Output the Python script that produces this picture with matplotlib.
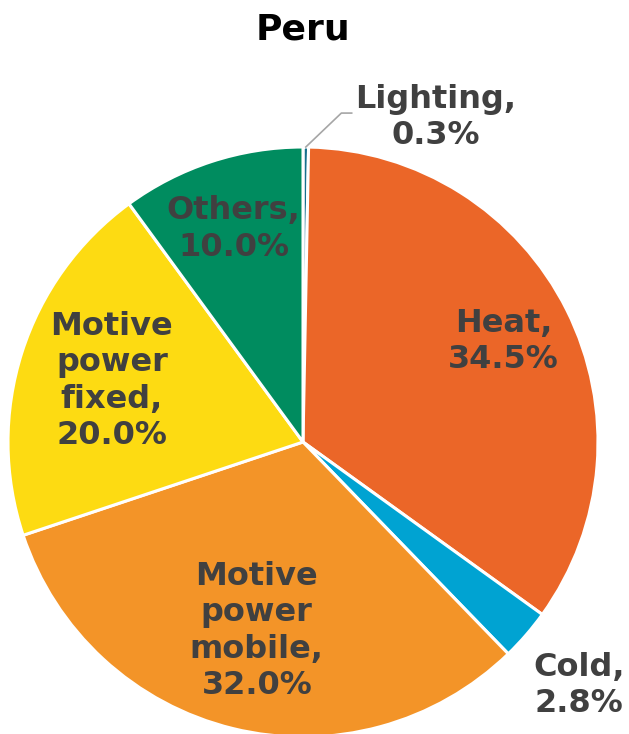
import numpy as np
import matplotlib
matplotlib.use("Agg")
import matplotlib.pyplot as plt

# slices, clockwise from 12 o'clock
categories = ["Lighting", "Heat", "Cold", "Motive\npower\nmobile", "Motive\npower\nfixed", "Others"]
shares = [0.3, 34.5, 2.8, 32.0, 20.0, 10.0]
colors = ["#16708C", "#EB6628", "#00A3D2", "#F39428", "#FDDB12", "#008C5F"]

# how far from the centre each label sits (in radius units)
label_dist = [1.20, 0.76, 1.25, 0.66, 0.68, 0.76]

fig = plt.figure(figsize=(6.29, 7.34), dpi=100)
W, H = 629, 734
cx, cy, r = 303, 442, 295
ax = fig.add_axes([(cx - r) / W, (H - cy - r) / H, 2 * r / W, 2 * r / H])

wedges, _ = ax.pie(shares, colors=colors, startangle=90, counterclock=False,
                   wedgeprops=dict(edgecolor="white", linewidth=2.2), radius=1.0)
ax.set_xlim(-1, 1)
ax.set_ylim(-1, 1)
ax.set_aspect("auto")
ax.axis("off")

tc = "#404040"
for i, w in enumerate(wedges):
    ang = np.deg2rad((w.theta1 + w.theta2) / 2)
    txt = "%s,\n%.1f%%" % (categories[i], shares[i])
    d = label_dist[i]
    x, y = d * np.cos(ang), d * np.sin(ang)
    if categories[i] == "Lighting":
        x, y = 0.45, 1.10
        # leader line
        ex, ey = np.cos(ang), np.sin(ang)
        ax.plot([ex, 0.13, 0.165], [ey, 1.115, 1.115], color="#A6A6A6", lw=1.2,
                clip_on=False)
    if categories[i] == "Cold":
        x, y = 0.935, -0.825
    ax.text(x, y, txt, ha="center", va="center", fontsize=23, fontweight="bold",
            color=tc, linespacing=1.22, clip_on=False)

fig.text(0.482, 0.960, "Peru", ha="center", va="center", fontsize=26,
         fontweight="bold", color="black")

fig.savefig("out.png", dpi=100)
